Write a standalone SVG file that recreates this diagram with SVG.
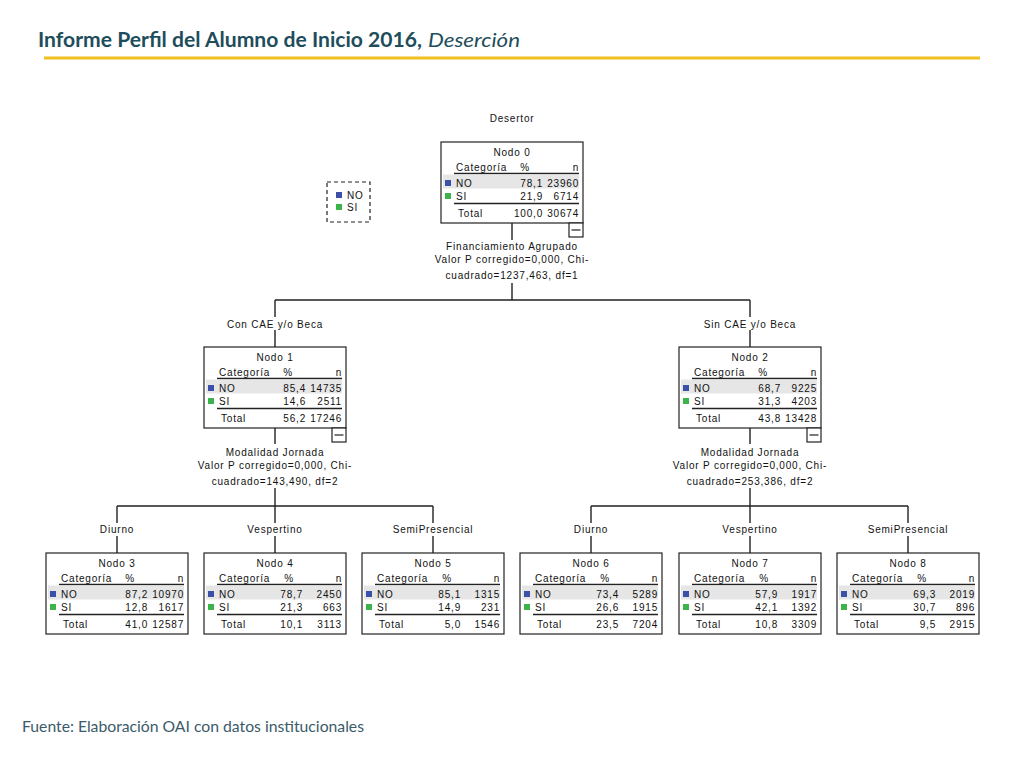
<svg xmlns="http://www.w3.org/2000/svg" width="1024" height="768" viewBox="0 0 1024 768">
<style>
.t{font-family:"Liberation Sans",Arial,sans-serif;font-size:10px;letter-spacing:0.8px;fill:#111}
.m{text-anchor:middle}
.e{text-anchor:end}
.box{fill:#fff;stroke:#222;stroke-width:1.2}
.rule{stroke:#222;stroke-width:1.6}
.band{fill:#e6e6e6}
.sqb{fill:#3c50a8}
.sqg{fill:#3cb44b}
.conn{stroke:#222;stroke-width:1.4;fill:none}
.title{font-family:Lato,"Open Sans",sans-serif;font-size:20px;fill:#1e4d5c}
.foot{font-family:Lato,"Open Sans",sans-serif;font-size:15px;fill:#3b5b6b}
</style>
<rect width="1024" height="768" fill="#fff"/>
<g id="header">
<text class="title" x="38" y="47" font-weight="bold" textLength="384" lengthAdjust="spacingAndGlyphs">Informe Perfil del Alumno de Inicio 2016,</text>
<text class="title" x="428" y="47" font-style="italic" textLength="92" lengthAdjust="spacingAndGlyphs">Deserción</text>
<line x1="44" y1="58" x2="980" y2="58" stroke="#f0c020" stroke-width="3"/>
</g>
<text class="t m" x="512" y="122">Desertor</text>
<g id="legend">
<rect x="327" y="182" width="43" height="40" fill="none" stroke="#222" stroke-width="1.2" stroke-dasharray="4,3"/>
<rect class="sqb" x="336" y="192" width="6" height="6"/>
<text class="t" x="347" y="199">NO</text>
<rect class="sqg" x="336" y="204" width="6" height="6"/>
<text class="t" x="347" y="211">SI</text>
</g>
<g id="connectors">
<path class="conn" d="M512,223V240M512,283V300M275,300H750M275,300V317M275,330V347M750,300V317M750,330V347"/>
<path class="conn" d="M275,428V444M275,488V506M117,506H433M117,506V523M117,536V553M275,506V523M275,536V553M433,506V523M433,536V553"/>
<path class="conn" d="M750,428V444M750,488V506M591,506H908M591,506V523M591,536V553M750,506V523M750,536V553M908,506V523M908,536V553"/>
</g>
<g id="labels">
<text class="t m" x="512" y="250">Financiamiento Agrupado</text>
<text class="t m" x="512" y="263">Valor P corregido=0,000, Chi-</text>
<text class="t m" x="512" y="279">cuadrado=1237,463, df=1</text>
<text class="t m" x="275" y="328">Con CAE y/o Beca</text>
<text class="t m" x="750" y="328">Sin CAE y/o Beca</text>
<text class="t m" x="275" y="456">Modalidad Jornada</text>
<text class="t m" x="275" y="469">Valor P corregido=0,000, Chi-</text>
<text class="t m" x="275" y="485">cuadrado=143,490, df=2</text>
<text class="t m" x="750" y="456">Modalidad Jornada</text>
<text class="t m" x="750" y="469">Valor P corregido=0,000, Chi-</text>
<text class="t m" x="750" y="485">cuadrado=253,386, df=2</text>
<text class="t m" x="117" y="533">Diurno</text>
<text class="t m" x="275" y="533">Vespertino</text>
<text class="t m" x="433" y="533">SemiPresencial</text>
<text class="t m" x="591" y="533">Diurno</text>
<text class="t m" x="750" y="533">Vespertino</text>
<text class="t m" x="908" y="533">SemiPresencial</text>
</g>
<g id="node0" transform="translate(441,142)">
<rect class="box" width="142" height="81"/>
<text class="t m" x="71" y="13.5">Nodo 0</text>
<text class="t" x="15" y="28.5">Categoría</text><text class="t m" x="84" y="28.5">%</text><text class="t e" x="138" y="28.5">n</text>
<line class="rule" x1="13" y1="31.5" x2="138" y2="31.5"/>
<rect class="band" x="2" y="32.5" width="136" height="14"/>
<rect class="sqb" x="4" y="38" width="6" height="6"/>
<text class="t" x="15" y="44.5">NO</text><text class="t e" x="102" y="44.5">78,1</text><text class="t e" x="138" y="44.5">23960</text>
<rect class="sqg" x="4" y="51" width="6" height="6"/>
<text class="t" x="15" y="58">SI</text><text class="t e" x="102" y="58">21,9</text><text class="t e" x="138" y="58">6714</text>
<line class="rule" x1="13" y1="61.5" x2="138" y2="61.5"/>
<text class="t" x="17" y="75">Total</text><text class="t e" x="102" y="75">100,0</text><text class="t e" x="138" y="75">30674</text>
<rect class="box" x="128" y="81" width="14" height="14"/>
<line x1="130.5" y1="88" x2="139.5" y2="88" stroke="#222" stroke-width="1.2"/>
</g>
<g id="node1" transform="translate(204,347)">
<rect class="box" width="142" height="81"/>
<text class="t m" x="71" y="13.5">Nodo 1</text>
<text class="t" x="15" y="28.5">Categoría</text><text class="t m" x="84" y="28.5">%</text><text class="t e" x="138" y="28.5">n</text>
<line class="rule" x1="13" y1="31.5" x2="138" y2="31.5"/>
<rect class="band" x="2" y="32.5" width="136" height="14"/>
<rect class="sqb" x="4" y="38" width="6" height="6"/>
<text class="t" x="15" y="44.5">NO</text><text class="t e" x="102" y="44.5">85,4</text><text class="t e" x="138" y="44.5">14735</text>
<rect class="sqg" x="4" y="51" width="6" height="6"/>
<text class="t" x="15" y="58">SI</text><text class="t e" x="102" y="58">14,6</text><text class="t e" x="138" y="58">2511</text>
<line class="rule" x1="13" y1="61.5" x2="138" y2="61.5"/>
<text class="t" x="17" y="75">Total</text><text class="t e" x="102" y="75">56,2</text><text class="t e" x="138" y="75">17246</text>
<rect class="box" x="128" y="81" width="14" height="14"/>
<line x1="130.5" y1="88" x2="139.5" y2="88" stroke="#222" stroke-width="1.2"/>
</g>
<g id="node2" transform="translate(679,347)">
<rect class="box" width="142" height="81"/>
<text class="t m" x="71" y="13.5">Nodo 2</text>
<text class="t" x="15" y="28.5">Categoría</text><text class="t m" x="84" y="28.5">%</text><text class="t e" x="138" y="28.5">n</text>
<line class="rule" x1="13" y1="31.5" x2="138" y2="31.5"/>
<rect class="band" x="2" y="32.5" width="136" height="14"/>
<rect class="sqb" x="4" y="38" width="6" height="6"/>
<text class="t" x="15" y="44.5">NO</text><text class="t e" x="102" y="44.5">68,7</text><text class="t e" x="138" y="44.5">9225</text>
<rect class="sqg" x="4" y="51" width="6" height="6"/>
<text class="t" x="15" y="58">SI</text><text class="t e" x="102" y="58">31,3</text><text class="t e" x="138" y="58">4203</text>
<line class="rule" x1="13" y1="61.5" x2="138" y2="61.5"/>
<text class="t" x="17" y="75">Total</text><text class="t e" x="102" y="75">43,8</text><text class="t e" x="138" y="75">13428</text>
<rect class="box" x="128" y="81" width="14" height="14"/>
<line x1="130.5" y1="88" x2="139.5" y2="88" stroke="#222" stroke-width="1.2"/>
</g>
<g id="node3" transform="translate(46,553)">
<rect class="box" width="142" height="81"/>
<text class="t m" x="71" y="13.5">Nodo 3</text>
<text class="t" x="15" y="28.5">Categoría</text><text class="t m" x="84" y="28.5">%</text><text class="t e" x="138" y="28.5">n</text>
<line class="rule" x1="13" y1="31.5" x2="138" y2="31.5"/>
<rect class="band" x="2" y="32.5" width="136" height="14"/>
<rect class="sqb" x="4" y="38" width="6" height="6"/>
<text class="t" x="15" y="44.5">NO</text><text class="t e" x="102" y="44.5">87,2</text><text class="t e" x="138" y="44.5">10970</text>
<rect class="sqg" x="4" y="51" width="6" height="6"/>
<text class="t" x="15" y="58">SI</text><text class="t e" x="102" y="58">12,8</text><text class="t e" x="138" y="58">1617</text>
<line class="rule" x1="13" y1="61.5" x2="138" y2="61.5"/>
<text class="t" x="17" y="75">Total</text><text class="t e" x="102" y="75">41,0</text><text class="t e" x="138" y="75">12587</text>
</g>
<g id="node4" transform="translate(204,553)">
<rect class="box" width="142" height="81"/>
<text class="t m" x="71" y="13.5">Nodo 4</text>
<text class="t" x="15" y="28.5">Categoría</text><text class="t m" x="85" y="28.5">%</text><text class="t e" x="138" y="28.5">n</text>
<line class="rule" x1="13" y1="31.5" x2="138" y2="31.5"/>
<rect class="band" x="2" y="32.5" width="136" height="14"/>
<rect class="sqb" x="4" y="38" width="6" height="6"/>
<text class="t" x="15" y="44.5">NO</text><text class="t e" x="99" y="44.5">78,7</text><text class="t e" x="138" y="44.5">2450</text>
<rect class="sqg" x="4" y="51" width="6" height="6"/>
<text class="t" x="15" y="58">SI</text><text class="t e" x="99" y="58">21,3</text><text class="t e" x="138" y="58">663</text>
<line class="rule" x1="13" y1="61.5" x2="138" y2="61.5"/>
<text class="t" x="17" y="75">Total</text><text class="t e" x="99" y="75">10,1</text><text class="t e" x="138" y="75">3113</text>
</g>
<g id="node5" transform="translate(362,553)">
<rect class="box" width="142" height="81"/>
<text class="t m" x="71" y="13.5">Nodo 5</text>
<text class="t" x="15" y="28.5">Categoría</text><text class="t m" x="85" y="28.5">%</text><text class="t e" x="138" y="28.5">n</text>
<line class="rule" x1="13" y1="31.5" x2="138" y2="31.5"/>
<rect class="band" x="2" y="32.5" width="136" height="14"/>
<rect class="sqb" x="4" y="38" width="6" height="6"/>
<text class="t" x="15" y="44.5">NO</text><text class="t e" x="99" y="44.5">85,1</text><text class="t e" x="138" y="44.5">1315</text>
<rect class="sqg" x="4" y="51" width="6" height="6"/>
<text class="t" x="15" y="58">SI</text><text class="t e" x="99" y="58">14,9</text><text class="t e" x="138" y="58">231</text>
<line class="rule" x1="13" y1="61.5" x2="138" y2="61.5"/>
<text class="t" x="17" y="75">Total</text><text class="t e" x="99" y="75">5,0</text><text class="t e" x="138" y="75">1546</text>
</g>
<g id="node6" transform="translate(520,553)">
<rect class="box" width="142" height="81"/>
<text class="t m" x="71" y="13.5">Nodo 6</text>
<text class="t" x="15" y="28.5">Categoría</text><text class="t m" x="85" y="28.5">%</text><text class="t e" x="138" y="28.5">n</text>
<line class="rule" x1="13" y1="31.5" x2="138" y2="31.5"/>
<rect class="band" x="2" y="32.5" width="136" height="14"/>
<rect class="sqb" x="4" y="38" width="6" height="6"/>
<text class="t" x="15" y="44.5">NO</text><text class="t e" x="99" y="44.5">73,4</text><text class="t e" x="138" y="44.5">5289</text>
<rect class="sqg" x="4" y="51" width="6" height="6"/>
<text class="t" x="15" y="58">SI</text><text class="t e" x="99" y="58">26,6</text><text class="t e" x="138" y="58">1915</text>
<line class="rule" x1="13" y1="61.5" x2="138" y2="61.5"/>
<text class="t" x="17" y="75">Total</text><text class="t e" x="99" y="75">23,5</text><text class="t e" x="138" y="75">7204</text>
</g>
<g id="node7" transform="translate(679,553)">
<rect class="box" width="142" height="81"/>
<text class="t m" x="71" y="13.5">Nodo 7</text>
<text class="t" x="15" y="28.5">Categoría</text><text class="t m" x="85" y="28.5">%</text><text class="t e" x="138" y="28.5">n</text>
<line class="rule" x1="13" y1="31.5" x2="138" y2="31.5"/>
<rect class="band" x="2" y="32.5" width="136" height="14"/>
<rect class="sqb" x="4" y="38" width="6" height="6"/>
<text class="t" x="15" y="44.5">NO</text><text class="t e" x="99" y="44.5">57,9</text><text class="t e" x="138" y="44.5">1917</text>
<rect class="sqg" x="4" y="51" width="6" height="6"/>
<text class="t" x="15" y="58">SI</text><text class="t e" x="99" y="58">42,1</text><text class="t e" x="138" y="58">1392</text>
<line class="rule" x1="13" y1="61.5" x2="138" y2="61.5"/>
<text class="t" x="17" y="75">Total</text><text class="t e" x="99" y="75">10,8</text><text class="t e" x="138" y="75">3309</text>
</g>
<g id="node8" transform="translate(837,553)">
<rect class="box" width="142" height="81"/>
<text class="t m" x="71" y="13.5">Nodo 8</text>
<text class="t" x="15" y="28.5">Categoría</text><text class="t m" x="85" y="28.5">%</text><text class="t e" x="138" y="28.5">n</text>
<line class="rule" x1="13" y1="31.5" x2="138" y2="31.5"/>
<rect class="band" x="2" y="32.5" width="136" height="14"/>
<rect class="sqb" x="4" y="38" width="6" height="6"/>
<text class="t" x="15" y="44.5">NO</text><text class="t e" x="99" y="44.5">69,3</text><text class="t e" x="138" y="44.5">2019</text>
<rect class="sqg" x="4" y="51" width="6" height="6"/>
<text class="t" x="15" y="58">SI</text><text class="t e" x="99" y="58">30,7</text><text class="t e" x="138" y="58">896</text>
<line class="rule" x1="13" y1="61.5" x2="138" y2="61.5"/>
<text class="t" x="17" y="75">Total</text><text class="t e" x="99" y="75">9,5</text><text class="t e" x="138" y="75">2915</text>
</g>
<text class="foot" x="22" y="732" textLength="342" lengthAdjust="spacingAndGlyphs">Fuente: Elaboración OAI con datos institucionales</text>
</svg>
